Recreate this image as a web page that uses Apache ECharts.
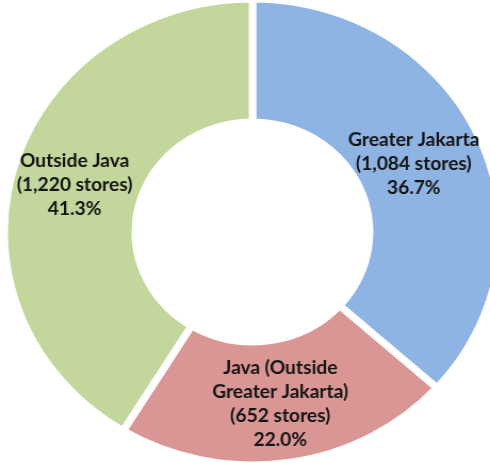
<!DOCTYPE html>
<html>
<head>
<meta charset="utf-8">
<script src="https://cdn.jsdelivr.net/npm/echarts@6/dist/echarts.min.js"></script>
<style>
  html, body { margin: 0; padding: 0; background: #ffffff; overflow: hidden; }
  #wrap { width: 490px; height: 463px; overflow: hidden; }
  #chart { width: 460px; height: 463px; transform: scaleX(1.0652); transform-origin: 0 0; }
</style>
</head>
<body>
<div id="wrap"><div id="chart"></div></div>
<script>
// Store counts by region
const regions = ['Greater Jakarta', 'Java (Outside\nGreater Jakarta)', 'Outside Java'];
const stores = [1084, 652, 1220];
const colors = ['#8EB4E3', '#D99694', '#C3D69B'];
// small nudges so each label sits well inside its ring segment
const labelOffsets = [[-8, 3], [1, 0], [1, 0]];

const chart = echarts.init(document.getElementById('chart'), null, { renderer: 'canvas' });

const data = regions.map((name, i) => ({
  name: name,
  value: stores[i],
  itemStyle: { color: colors[i] },
  label: { offset: labelOffsets[i] }
}));

chart.setOption({
  animation: false,
  series: [{
    type: 'pie',
    center: [237, 232],
    radius: [110, 233],
    startAngle: 90,
    clockwise: true,
    percentPrecision: 1,
    avoidLabelOverlap: false,
    itemStyle: { borderColor: '#ffffff', borderWidth: 7 },
    label: {
      show: true,
      position: 'inside',
      color: '#141414',
      fontFamily: 'Lato',
      fontWeight: 'bold',
      fontSize: 18,
      lineHeight: 24,
      align: 'center',
      formatter: function (p) {
        return p.name + '\n(' + p.value.toLocaleString('en-US') + ' stores)\n' + p.percent.toFixed(1) + '%';
      }
    },
    labelLine: { show: false },
    emphasis: { disabled: true },
    data: data
  }]
});
</script>
</body>
</html>
